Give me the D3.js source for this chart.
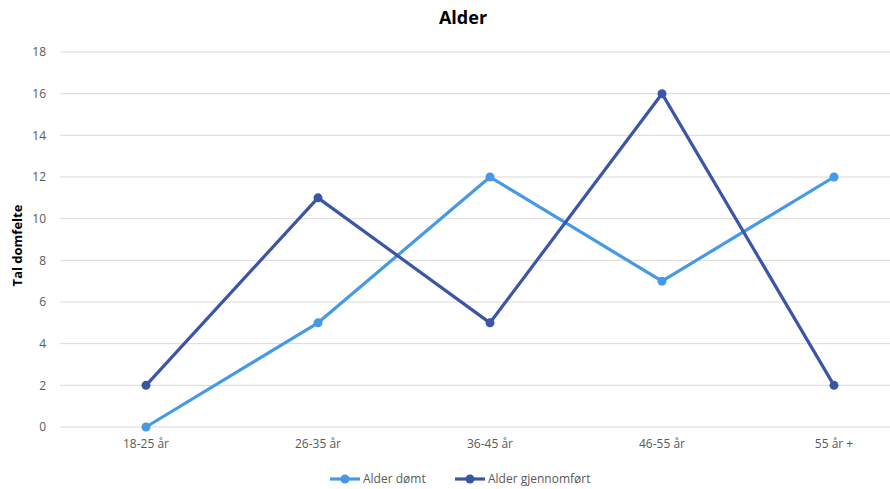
<!DOCTYPE html>
<html>
<head>
<meta charset="utf-8">
<script src="https://cdn.jsdelivr.net/npm/d3@7"></script>
<style>
  html, body { margin: 0; padding: 0; background: #fff; }
  svg { display: block; font-family: "Open Sans", "Liberation Sans", sans-serif; }
</style>
</head>
<body>
<svg id="chart" width="890" height="489"></svg>
<script>
const categories = ["18-25 år", "26-35 år", "36-45 år", "46-55 år", "55 år +"];
const seriesNames = ["Alder dømt", "Alder gjennomført"];
const alderDomt = [0, 5, 12, 7, 12];
const alderGjennomfort = [2, 11, 5, 16, 2];
const yTicks = [0, 2, 4, 6, 8, 10, 12, 14, 16, 18];
const colors = ["#4599e6", "#3c56a6"];

(function () {
  const svg = d3.select("#chart");
  const W = 890;
  const plotLeft = 60, plotRight = 920, plotTop = 52, plotBottom = 427;

  const x = d3.scaleBand().domain(categories).range([plotLeft, plotRight]);
  const y = d3.scaleLinear().domain([0, 18]).range([plotBottom, plotTop]);
  const cx = c => x(c) + x.bandwidth() / 2;

  // gridlines
  svg.append("g").selectAll("line").data(yTicks).join("line")
    .attr("x1", plotLeft).attr("x2", W)
    .attr("y1", d => y(d)).attr("y2", d => y(d))
    .attr("stroke", "#d9d9d9").attr("stroke-width", 1);

  // y axis labels
  const yAxis = svg.append("g").attr("transform", `translate(${plotLeft - 14},0)`)
    .call(d3.axisLeft(y).tickValues(yTicks).tickSize(0).tickPadding(0));
  yAxis.select(".domain").remove();
  yAxis.selectAll("text").attr("fill", "#595959").attr("font-size", 12)
    .style("font-family", "'Open Sans', sans-serif");

  // x axis labels
  const xAxis = svg.append("g").attr("transform", `translate(0,${plotBottom + 12})`)
    .call(d3.axisBottom(x).tickSize(0).tickPadding(0));
  xAxis.select(".domain").remove();
  xAxis.selectAll("text").attr("fill", "#595959").attr("font-size", 12)
    .attr("dy", "0.71em").style("font-family", "'Open Sans', sans-serif");

  // title
  svg.append("text").attr("x", 463).attr("y", 24).attr("text-anchor", "middle")
    .attr("font-size", 18).attr("font-weight", "bold").attr("fill", "#000")
    .text("Alder");

  // y axis title
  svg.append("text").attr("transform", `translate(22,${(plotTop + plotBottom) / 2 + 6}) rotate(-90)`)
    .attr("text-anchor", "middle").attr("font-size", 13).attr("font-weight", "bold")
    .attr("fill", "#000").text("Tal domfelte");

  // series
  const series = [alderDomt, alderGjennomfort];
  const line = d3.line().x((d, i) => cx(categories[i])).y(d => y(d));
  series.forEach((vals, si) => {
    const g = svg.append("g");
    g.append("path").datum(vals).attr("d", line)
      .attr("fill", "none").attr("stroke", colors[si]).attr("stroke-width", 3.2)
      .attr("stroke-linejoin", "round");
    g.selectAll("circle").data(vals).join("circle")
      .attr("cx", (d, i) => cx(categories[i]))
      .attr("cy", d => y(d)).attr("r", 4.5).attr("fill", colors[si]);
  });

  // legend
  const legendX = [330, 455];
  legendX.forEach((lx, i) => {
    const g = svg.append("g").attr("transform", `translate(${lx},479)`);
    g.append("line").attr("x1", 0).attr("x2", 30).attr("y1", 0).attr("y2", 0)
      .attr("stroke", colors[i]).attr("stroke-width", 3.2);
    g.append("circle").attr("cx", 15).attr("cy", 0).attr("r", 4.5).attr("fill", colors[i]);
    g.append("text").attr("x", 33).attr("y", 0).attr("dy", "0.35em")
      .attr("font-size", 12).attr("fill", "#595959").text(seriesNames[i]);
  });
})();
</script>
</body>
</html>
